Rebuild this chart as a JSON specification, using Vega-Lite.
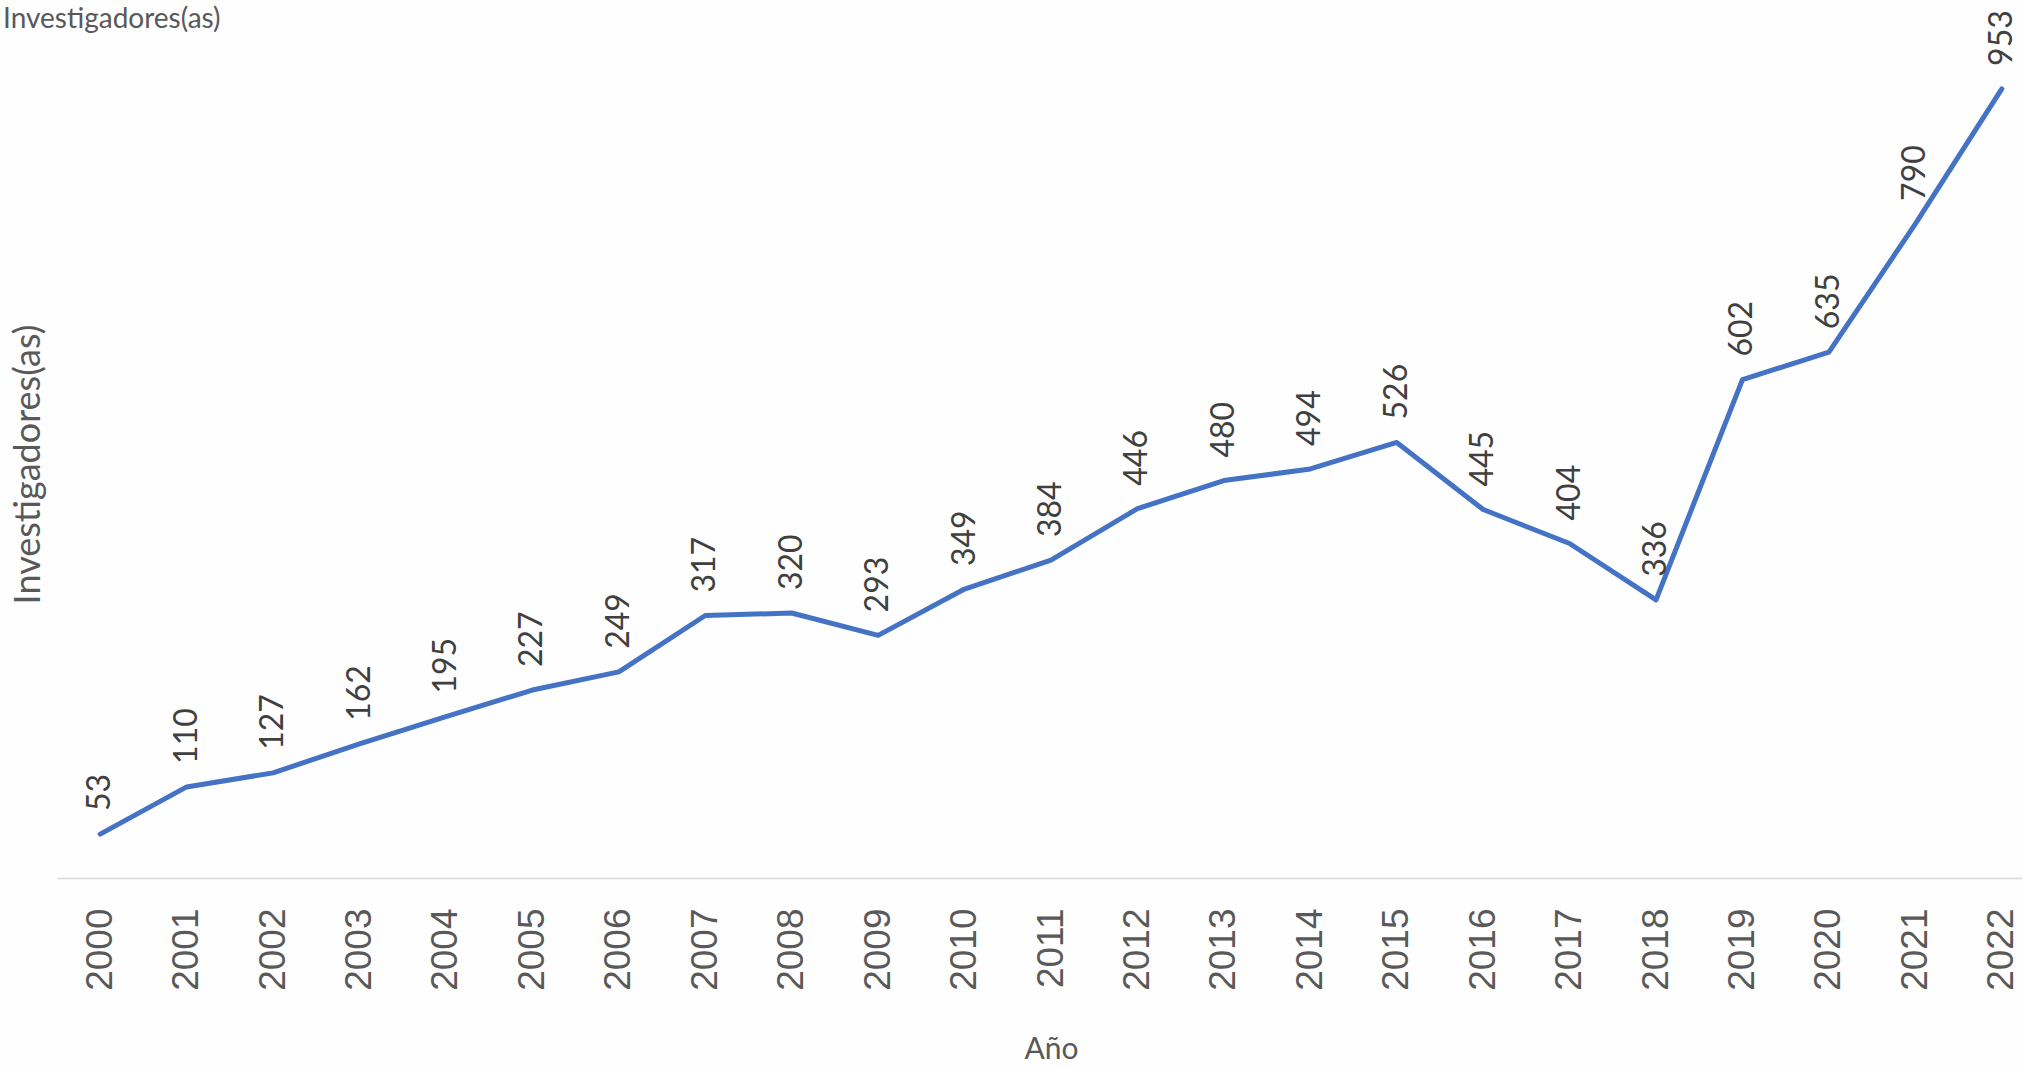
{
  "$schema": "https://vega.github.io/schema/vega-lite/v6.json",
  "width": 1988,
  "height": 828,
  "autosize": {"type": "none"},
  "padding": {"left": 57, "top": 50, "right": 0, "bottom": 189},
  "background": "#FEFEFE",
  "title": {
    "text": "Investigadores(as)",
    "anchor": "start",
    "frame": "group",
    "dx": -54,
    "offset": -24,
    "font": "Lato",
    "fontSize": 28,
    "fontWeight": "normal",
    "color": "#595959"
  },
  "config": {"view": {"stroke": null}},
  "data": {
    "values": [
      {"anio": "2000", "inv": 53},
      {"anio": "2001", "inv": 110},
      {"anio": "2002", "inv": 127},
      {"anio": "2003", "inv": 162},
      {"anio": "2004", "inv": 195},
      {"anio": "2005", "inv": 227},
      {"anio": "2006", "inv": 249},
      {"anio": "2007", "inv": 317},
      {"anio": "2008", "inv": 320},
      {"anio": "2009", "inv": 293},
      {"anio": "2010", "inv": 349},
      {"anio": "2011", "inv": 384},
      {"anio": "2012", "inv": 446},
      {"anio": "2013", "inv": 480},
      {"anio": "2014", "inv": 494},
      {"anio": "2015", "inv": 526},
      {"anio": "2016", "inv": 445},
      {"anio": "2017", "inv": 404},
      {"anio": "2018", "inv": 336},
      {"anio": "2019", "inv": 602},
      {"anio": "2020", "inv": 635},
      {"anio": "2021", "inv": 790},
      {"anio": "2022", "inv": 953}
    ]
  },
  "encoding": {
    "x": {
      "field": "anio",
      "type": "ordinal",
      "scale": {"type": "point", "padding": 0.5},
      "axis": {
        "title": "Año",
        "titleFont": "Lato",
        "titleFontSize": 30,
        "titleFontWeight": "normal",
        "titleColor": "#595959",
        "titlePadding": 44,
        "labelAngle": -90,
        "labelAlign": "right",
        "labelBaseline": "middle",
        "labelFont": "Liberation Sans",
        "labelFontSize": 37,
        "labelColor": "#595959",
        "labelPadding": 30,
        "ticks": false,
        "domainColor": "#D9D9D9",
        "domainWidth": 1.5,
        "grid": false
      }
    },
    "y": {
      "field": "inv",
      "type": "quantitative",
      "scale": {"domain": [0, 1000], "nice": false},
      "axis": {
        "title": "Investigadores(as)",
        "titleFont": "Lato",
        "titleFontSize": 36,
        "titleFontWeight": "normal",
        "titleColor": "#595959",
        "titlePadding": 10,
        "labels": false,
        "ticks": false,
        "domain": false,
        "grid": false
      }
    }
  },
  "layer": [
    {
      "mark": {"type": "line", "color": "#4472C4", "strokeWidth": 5, "strokeCap": "round", "strokeJoin": "round"}
    },
    {
      "mark": {
        "type": "text",
        "angle": 270,
        "align": "left",
        "baseline": "middle",
        "dx": 23,
        "font": "Lato",
        "fontSize": 32,
        "color": "#404040"
      },
      "encoding": {"text": {"field": "inv", "type": "quantitative"}}
    }
  ]
}
